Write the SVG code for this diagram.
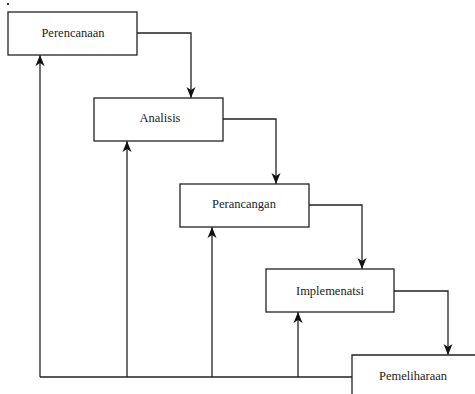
<svg xmlns="http://www.w3.org/2000/svg" width="475" height="394" viewBox="0 0 475 394">
<style>
.box{fill:#fff;stroke:#222;stroke-width:1.3}
.lbl{font-size:12.5px;fill:#222;text-anchor:middle}
.ln{fill:none;stroke:#222;stroke-width:1.3}
</style>
<defs>
<marker id="ah" markerWidth="12" markerHeight="12" refX="11" refY="6" orient="auto" markerUnits="userSpaceOnUse">
<path d="M0,1.5 L11,6 L0,10.5 L3,6 Z" fill="#111"/>
</marker>
</defs>
<rect x="7" y="3" width="2" height="2" fill="#333"/>
<g id="connectors">
<path class="ln" d="M137,33 H191 V98" marker-end="url(#ah)"/>
<path class="ln" d="M223,119 H276 V184" marker-end="url(#ah)"/>
<path class="ln" d="M309,205 H362 V269" marker-end="url(#ah)"/>
<path class="ln" d="M394,291 H448 V355" marker-end="url(#ah)"/>
<path class="ln" d="M352,377 H40"/>
<path class="ln" d="M40,377 V55" marker-end="url(#ah)"/>
<path class="ln" d="M127,377 V141" marker-end="url(#ah)"/>
<path class="ln" d="M212,377 V227" marker-end="url(#ah)"/>
<path class="ln" d="M298,377 V312" marker-end="url(#ah)"/>
</g>
<g font-family="Liberation Serif, Times New Roman, serif">
<g id="perencanaan">
<rect class="box" x="8" y="12" width="129" height="43"/>
<text class="lbl" x="73" y="37">Perencanaan</text>
</g>
<g id="analisis">
<rect class="box" x="94" y="98" width="129" height="43"/>
<text class="lbl" x="160" y="122">Analisis</text>
</g>
<g id="perancangan">
<rect class="box" x="180" y="184" width="129" height="43"/>
<text class="lbl" x="244" y="208">Perancangan</text>
</g>
<g id="implementasi">
<rect class="box" x="266" y="269" width="128" height="43"/>
<text class="lbl" x="330" y="295">Implemenatsi</text>
</g>
<g id="pemeliharaan">
<path d="M352,394 V355 H475 V394 Z" fill="#fff"/>
<path class="ln" d="M352,394 V355 H475"/>
<text class="lbl" x="413" y="380">Pemeliharaan</text>
</g>
</g>
</svg>
